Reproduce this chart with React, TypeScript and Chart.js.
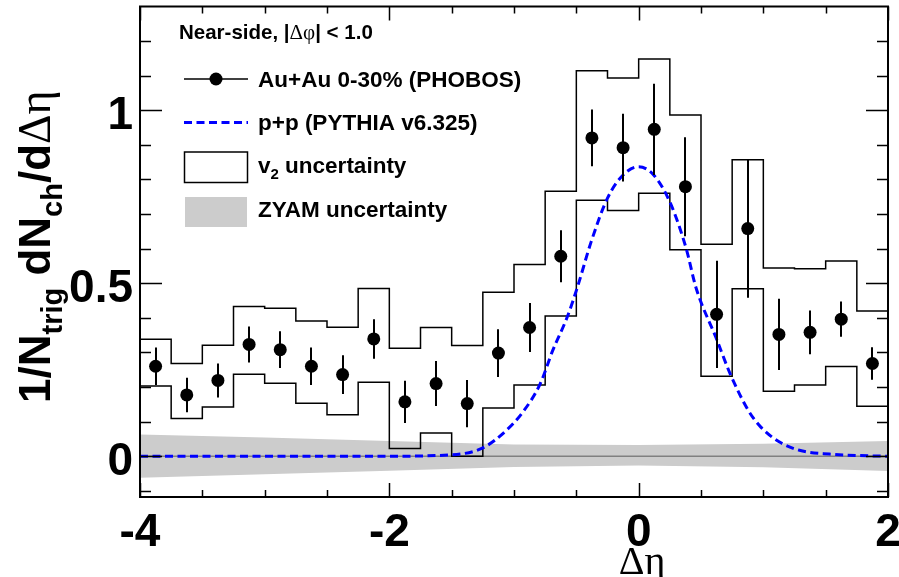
import React, { useEffect, useRef } from "react";
import { Chart, registerables } from "chart.js";

Chart.register(...registerables);

// ---------- data ----------
const X_MIN = -4;
const X_MAX = 2;
const Y_MIN = -0.118;
const Y_MAX = 1.3;

const binEdges = [
  -4, -3.75, -3.5, -3.25, -3, -2.75, -2.5, -2.25, -2, -1.75, -1.5, -1.25, -1,
  -0.75, -0.5, -0.25, 0, 0.25, 0.5, 0.75, 1, 1.25, 1.5, 1.75, 2,
];

const pointX = [
  -3.875, -3.625, -3.375, -3.125, -2.875, -2.625, -2.375, -2.125, -1.875, -1.625,
  -1.375, -1.125, -0.875, -0.625, -0.375, -0.125, 0.125, 0.375, 0.625, 0.875,
  1.125, 1.375, 1.625, 1.875,
];
const pointY = [
  0.26, 0.177, 0.219, 0.323, 0.308, 0.26, 0.236, 0.339, 0.157, 0.21, 0.152, 0.298,
  0.372, 0.578, 0.92, 0.892, 0.945, 0.779, 0.41, 0.658, 0.352, 0.358, 0.396, 0.268,
];
const pointErr = [
  0.054, 0.05, 0.049, 0.052, 0.053, 0.054, 0.056, 0.057, 0.061, 0.065, 0.068, 0.069,
  0.071, 0.075, 0.082, 0.098, 0.132, 0.143, 0.155, 0.2, 0.103, 0.063, 0.051, 0.047,
];

const v2Upper = [
  0.338, 0.268, 0.321, 0.433, 0.428, 0.391, 0.373, 0.485, 0.312, 0.372, 0.32, 0.474,
  0.554, 0.766, 1.114, 1.093, 1.148, 0.986, 0.613, 0.857, 0.544, 0.542, 0.564, 0.42,
];
const v2Lower = [
  0.203, 0.109, 0.142, 0.237, 0.211, 0.153, 0.12, 0.214, 0.022, 0.067, 0.0, 0.139,
  0.206, 0.405, 0.74, 0.71, 0.76, 0.597, 0.231, 0.484, 0.188, 0.206, 0.259, 0.144,
];

const pythiaX = [
  -4, -2, -1.5, -1.25, -1.06, -0.93, -0.79, -0.69, -0.57, -0.49, -0.38, -0.25,
  -0.125, 0, 0.12, 0.25, 0.38, 0.46, 0.62, 0.74, 0.88, 0.98, 1.13, 1.29, 1.53, 1.85, 2,
];
const pythiaY = [
  0, 0.0, 0.004, 0.024, 0.075, 0.127, 0.209, 0.305, 0.405, 0.49, 0.621, 0.746,
  0.813, 0.837, 0.813, 0.735, 0.602, 0.487, 0.343, 0.233, 0.132, 0.084, 0.041, 0.017,
  0.006, 0.001, 0,
];

const zyamX = [-4, -3, -2, -1, 0, 1, 2];
const zyamHi = [0.063, 0.054, 0.044, 0.034, 0.032, 0.036, 0.044];
const zyamLo = [-0.062, -0.052, -0.042, -0.031, -0.027, -0.032, -0.043];

const xMajorTicks = [-4, -2, 0, 2];
const xTickLabels = ["-4", "-2", "0", "2"];
const xMinorTicks = [-3.5, -3, -2.5, -1.5, -1, -0.5, 0.5, 1, 1.5];
const yMajorTicks = [0, 0.5, 1];
const yTickLabels = ["0", "0.5", "1"];
const yMinorTicks = [-0.1, 0.1, 0.2, 0.3, 0.4, 0.6, 0.7, 0.8, 0.9, 1.1, 1.2];

const legendTitle = ["Near-side, |", "Δφ", "| < 1.0"];
const legendLabels = ["Au+Au 0-30% (PHOBOS)", "p+p (PYTHIA v6.325)", "v", "2", " uncertainty", "ZYAM uncertainty"];

// ---------- styles ----------
const SANS = "'Liberation Sans', Arial, Helvetica, sans-serif";
const SERIF = "'Liberation Serif', 'Times New Roman', serif";
const BLUE = "#0000ff";
const DASH = [8, 4.5];

type Part = { t: string; f: string; dy?: number };

function drawParts(ctx: CanvasRenderingContext2D, x: number, y: number, parts: Part[]) {
  let cx = x;
  for (const p of parts) {
    ctx.font = p.f;
    ctx.fillText(p.t, cx, y + (p.dy || 0));
    cx += ctx.measureText(p.t).width;
  }
}

const rootPlugin = {
  id: "rootDecor",
  beforeDatasetDraw(chart: any, args: any) {
    if (args.index !== 6) return;
    const { ctx, scales } = chart;
    const xs = scales.x;
    const ys = scales.y;
    ctx.save();
    ctx.strokeStyle = "#000";
    ctx.lineWidth = 2;
    for (let i = 0; i < pointX.length; i++) {
      const px = Math.round(xs.getPixelForValue(pointX[i]));
      ctx.beginPath();
      ctx.moveTo(px, ys.getPixelForValue(pointY[i] + pointErr[i]));
      ctx.lineTo(px, ys.getPixelForValue(pointY[i] - pointErr[i]));
      ctx.stroke();
    }
    ctx.restore();
  },
  afterDraw(chart: any) {
    const { ctx, chartArea, scales } = chart;
    const xs = scales.x;
    const ys = scales.y;
    const { left, right, top, bottom } = chartArea;
    ctx.save();
    // frame
    ctx.strokeStyle = "#000";
    ctx.lineWidth = 2;
    ctx.strokeRect(left, top, right - left, bottom - top);
    // ticks
    ctx.lineWidth = 1.5;
    ctx.beginPath();
    const xt = (v: number, len: number) => {
      const px = Math.round(xs.getPixelForValue(v)) + 0.5;
      ctx.moveTo(px, bottom);
      ctx.lineTo(px, bottom - len);
      ctx.moveTo(px, top);
      ctx.lineTo(px, top + len);
    };
    const yt = (v: number, len: number) => {
      const py = Math.round(ys.getPixelForValue(v)) + 0.5;
      ctx.moveTo(left, py);
      ctx.lineTo(left + len, py);
      ctx.moveTo(right, py);
      ctx.lineTo(right - len, py);
    };
    xMajorTicks.forEach((v) => xt(v, 14));
    xMinorTicks.forEach((v) => xt(v, 7));
    yMajorTicks.forEach((v) => yt(v, 22));
    yMinorTicks.forEach((v) => yt(v, 11));
    ctx.stroke();

    // tick labels
    ctx.fillStyle = "#000";
    ctx.font = `bold 46px ${SANS}`;
    ctx.textBaseline = "alphabetic";
    ctx.textAlign = "center";
    xMajorTicks.forEach((v, i) => {
      ctx.fillText(xTickLabels[i], xs.getPixelForValue(v), 546);
    });
    ctx.textAlign = "right";
    yMajorTicks.forEach((v, i) => {
      ctx.fillText(yTickLabels[i], 133, ys.getPixelForValue(v) + 19);
    });

    // x title
    ctx.textAlign = "center";
    ctx.font = `40px ${SERIF}`;
    ctx.fillText("Δη", 642, 574);

    // y title (rotated)
    ctx.textAlign = "left";
    ctx.save();
    ctx.translate(50, 403);
    ctx.rotate(-Math.PI / 2);
    drawParts(ctx, 0, 0, [
      { t: "1/N", f: `bold 44px ${SANS}` },
      { t: "trig", f: `bold 29px ${SANS}`, dy: 12 },
      { t: " dN", f: `bold 44px ${SANS}` },
      { t: "ch", f: `bold 29px ${SANS}`, dy: 12 },
      { t: "/d", f: `bold 44px ${SANS}` },
      { t: "Δη", f: `46px ${SERIF}` },
    ]);
    ctx.restore();

    // legend
    const bold = `bold 22.5px ${SANS}`;
    drawParts(ctx, 179, 39, [
      { t: legendTitle[0], f: `bold 20.5px ${SANS}` },
      { t: legendTitle[1], f: `21px ${SERIF}` },
      { t: legendTitle[2], f: `bold 20.5px ${SANS}` },
    ]);
    // entry 1: marker
    ctx.strokeStyle = "#000";
    ctx.lineWidth = 1.5;
    ctx.beginPath();
    ctx.moveTo(184, 79);
    ctx.lineTo(248, 79);
    ctx.stroke();
    ctx.beginPath();
    ctx.arc(216, 79, 6.5, 0, Math.PI * 2);
    ctx.fill();
    drawParts(ctx, 258, 87, [{ t: legendLabels[0], f: bold }]);
    // entry 2: dashed blue
    ctx.strokeStyle = BLUE;
    ctx.lineWidth = 3;
    ctx.setLineDash(DASH);
    ctx.beginPath();
    ctx.moveTo(184, 122.5);
    ctx.lineTo(248, 122.5);
    ctx.stroke();
    ctx.setLineDash([]);
    drawParts(ctx, 258, 130, [{ t: legendLabels[1], f: bold }]);
    // entry 3: open box
    ctx.strokeStyle = "#000";
    ctx.lineWidth = 1.5;
    ctx.strokeRect(184.5, 152, 63, 30.5);
    drawParts(ctx, 258, 172.5, [
      { t: legendLabels[2], f: bold },
      { t: legendLabels[3], f: `bold 15px ${SANS}`, dy: 6 },
      { t: legendLabels[4], f: bold },
    ]);
    // entry 4: gray box
    ctx.fillStyle = "#cccccc";
    ctx.fillRect(185, 197, 62, 30);
    ctx.fillStyle = "#000";
    drawParts(ctx, 258, 217, [{ t: legendLabels[5], f: bold }]);
    ctx.restore();
  },
};

function stepPoints(vals: number[]) {
  const pts: { x: number; y: number }[] = [];
  vals.forEach((v, i) => {
    pts.push({ x: binEdges[i], y: v });
    pts.push({ x: binEdges[i + 1], y: v });
  });
  return pts;
}

export default function App() {
  const ref = useRef<HTMLCanvasElement | null>(null);
  useEffect(() => {
    if (!ref.current) return;
    const chart = new Chart(ref.current, {
      type: "scatter",
      data: {
        datasets: [
          {
            data: zyamX.map((x, i) => ({ x, y: zyamHi[i] })),
            showLine: true,
            borderWidth: 0,
            pointRadius: 0,
            fill: "+1",
            backgroundColor: "#cccccc",
            order: 6,
          },
          {
            data: zyamX.map((x, i) => ({ x, y: zyamLo[i] })),
            showLine: true,
            borderWidth: 0,
            pointRadius: 0,
            fill: false,
            order: 6,
          },
          {
            data: [
              { x: X_MIN, y: 0 },
              { x: X_MAX, y: 0 },
            ],
            showLine: true,
            borderColor: "#808080",
            borderWidth: 1.5,
            pointRadius: 0,
            order: 5,
          },
          {
            data: stepPoints(v2Upper),
            showLine: true,
            borderColor: "#000",
            borderWidth: 1.5,
            pointRadius: 0,
            order: 4,
          },
          {
            data: stepPoints(v2Lower),
            showLine: true,
            borderColor: "#000",
            borderWidth: 1.5,
            pointRadius: 0,
            order: 3,
          },
          {
            data: pythiaX.map((x, i) => ({ x, y: pythiaY[i] })),
            showLine: true,
            borderColor: BLUE,
            borderWidth: 3,
            borderDash: DASH,
            pointRadius: 0,
            cubicInterpolationMode: "monotone",
            order: 2,
          },
          {
            data: pointX.map((x, i) => ({ x, y: pointY[i] })),
            showLine: false,
            pointRadius: 6.5,
            pointBackgroundColor: "#000",
            pointBorderWidth: 0,
            order: 1,
          },
        ],
      },
      options: {
        animation: false,
        responsive: false,
        events: [],
        layout: { padding: { left: 140, right: 11, top: 4, bottom: 80 } },
        plugins: { legend: { display: false }, tooltip: { enabled: false } },
        scales: {
          x: { type: "linear", min: X_MIN, max: X_MAX, display: false },
          y: { type: "linear", min: Y_MIN, max: Y_MAX, display: false },
        },
      },
      plugins: [rootPlugin],
    } as any);
    return () => chart.destroy();
  }, []);
  return (
    <div style={{ position: "absolute", left: 0, top: 0, width: 899, height: 577, background: "#fff" }}>
      <canvas ref={ref} width={899} height={577} style={{ width: 899, height: 577, display: "block" }} />
    </div>
  );
}
